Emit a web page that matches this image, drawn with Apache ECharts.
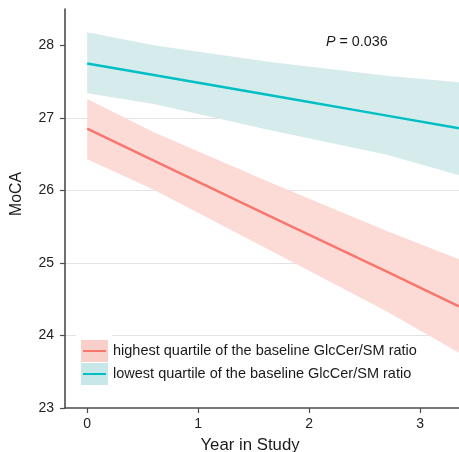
<!DOCTYPE html>
<html><head><meta charset="utf-8">
<script src="https://cdn.jsdelivr.net/npm/echarts@6/dist/echarts.min.js"></script>
<style>html,body{margin:0;padding:0;background:#fff}#c{width:459px;height:452px}</style>
</head><body><div id="c"></div>
<script>
// ---- data ----
const years = [0, 0.6, 1.65, 2.7, 3.35];
const lowLine = [27.75, 27.59, 27.31, 27.03, 26.855];
const lowUpper = [28.18, 28.00, 27.77, 27.58, 27.49];
const lowLower = [27.34, 27.19, 26.83, 26.49, 26.21];
const highLine = [26.85, 26.41, 25.64, 24.88, 24.40];
const highUpper = [27.26, 26.80, 26.11, 25.44, 25.05];
const highLower = [26.43, 26.01, 25.17, 24.33, 23.76];
const yTicks = [23, 24, 25, 26, 27, 28];
const xTicks = [0, 1, 2, 3];
const seriesNames = ['highest quartile of the baseline GlcCer/SM ratio', 'lowest quartile of the baseline GlcCer/SM ratio'];
const xTitle = 'Year in Study', yTitle = 'MoCA';
const pText = '0.036';

const RED = '#F8766D', BLUE = '#00BFC4';
const RED_BAND = '#FCDBD6', BLUE_BAND = '#D6ECEC';
const FONT = 'Liberation Sans';

function band(lo, hi, fill) {
  return {
    type: 'custom', silent: true, z: 1,
    data: years.map((x, i) => [x, lo[i], hi[i]]),
    renderItem: function (params, api) {
      if (params.dataIndex !== 0) return null;
      const pts = [];
      for (let i = 0; i < years.length; i++) pts.push(api.coord([years[i], hi[i]]));
      for (let i = years.length - 1; i >= 0; i--) pts.push(api.coord([years[i], lo[i]]));
      return { type: 'polygon', shape: { points: pts }, style: { fill: fill } };
    }
  };
}
function line(vals, color) {
  return {
    type: 'line', z: 3, symbol: 'none', silent: true,
    data: years.map((x, i) => [x, vals[i]]),
    lineStyle: { color: color, width: 2.5 }
  };
}

const chart = echarts.init(document.getElementById('c'));
chart.setOption({
  animation: false,
  grid: { left: 65, right: 0, top: 9, bottom: 44, containLabel: false, outerBoundsMode: 'none' },
  xAxis: {
    type: 'value', min: -0.2, max: 3.35,
    axisLine: { onZero: false, lineStyle: { color: '#4d4d4d', width: 1.6 } },
    axisTick: { customValues: xTicks, length: 5, lineStyle: { color: '#4d4d4d', width: 1.2 } },
    axisLabel: { customValues: xTicks, margin: 9, fontFamily: FONT, fontSize: 14, color: '#222' },
    splitLine: { show: false }
  },
  yAxis: {
    type: 'value', min: 23, max: 28.5,
    axisLine: { show: true, onZero: false, lineStyle: { color: '#4d4d4d', width: 1.6 } },
    axisTick: { show: true, customValues: yTicks, length: 5, lineStyle: { color: '#4d4d4d', width: 1.2 } },
    axisLabel: { customValues: yTicks, margin: 11, fontFamily: FONT, fontSize: 14, color: '#222' },
    splitLine: { show: true, showMinLine: false, showMaxLine: false, lineStyle: { color: '#e3e3e3', width: 1 } }
  },
  series: [
    band(lowLower, lowUpper, BLUE_BAND),
    band(highLower, highUpper, RED_BAND),
    line(lowLine, BLUE),
    line(highLine, RED)
  ],
  graphic: [
    { type: 'text', z: 102, x: 250, y: 445, style: { text: xTitle, fontFamily: FONT, fontSize: 16.8, fill: '#1a1a1a', textAlign: 'center', textVerticalAlign: 'middle' } },
    { type: 'text', z: 102, x: 17, y: 194, rotation: Math.PI / 2, style: { text: yTitle, fontFamily: FONT, fontSize: 15.8, fill: '#1a1a1a', textAlign: 'center', textVerticalAlign: 'middle' } },
    { type: 'rect', z: 100, shape: { x: 76, y: 333, width: 36, height: 56 }, style: { fill: '#fff' } },
    { type: 'rect', z: 101, shape: { x: 81, y: 340, width: 27, height: 22 }, style: { fill: '#F9CFC9' } },
    { type: 'line', z: 102, shape: { x1: 83, y1: 351, x2: 106, y2: 351 }, style: { stroke: RED, lineWidth: 2 } },
    { type: 'rect', z: 101, shape: { x: 81, y: 363, width: 27, height: 22 }, style: { fill: '#C7E7E9' } },
    { type: 'line', z: 102, shape: { x1: 83, y1: 374, x2: 106, y2: 374 }, style: { stroke: BLUE, lineWidth: 2 } },
    { type: 'text', z: 102, x: 113, y: 351, style: { text: seriesNames[0], fontFamily: FONT, fontSize: 14.5, fill: '#1a1a1a', textVerticalAlign: 'middle' } },
    { type: 'text', z: 102, x: 113, y: 374, style: { text: seriesNames[1], fontFamily: FONT, fontSize: 14.5, fill: '#1a1a1a', textVerticalAlign: 'middle' } },
    { type: 'text', z: 102, x: 326, y: 42, style: {
        text: '{i|P} = ' + pText, fontFamily: FONT, fontSize: 14.3, fill: '#1a1a1a', textVerticalAlign: 'middle',
        rich: { i: { fontStyle: 'italic', fontFamily: FONT, fontSize: 14.3, fill: '#1a1a1a' } } } }
  ]
});
</script></body></html>
